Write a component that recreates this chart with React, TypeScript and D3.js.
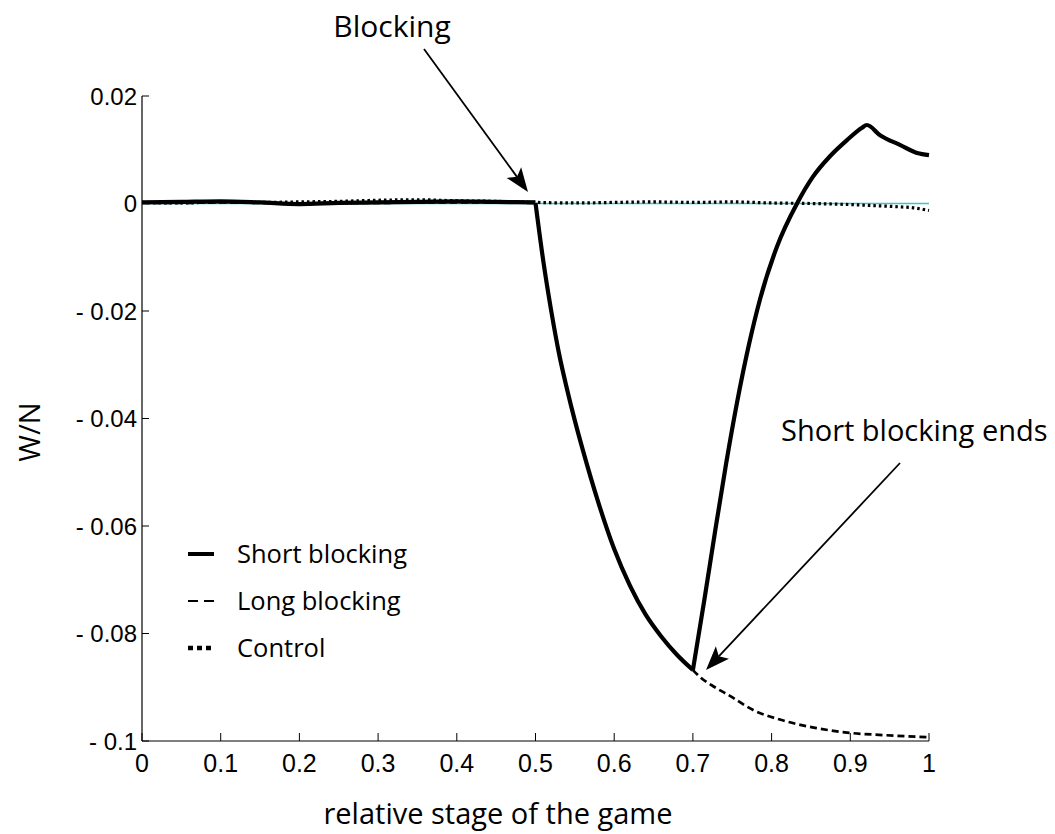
import React from "react";
import * as d3 from "d3";

// x positions (relative stage) and W/N values for each curve
const preStage = [0, 0.05, 0.1, 0.15, 0.2, 0.25, 0.3, 0.35, 0.4, 0.45, 0.5];
const shortPre = [0.0002, 0.0003, 0.0004, 0.0002, -0.0001, 0.0001, 0.0002, 0.0003, 0.0004, 0.0003, 0.0002];
const longPre = [0.0001, 0.0001, 0.0002, 0.0001, 0.0000, 0.0001, 0.0001, 0.0002, 0.0002, 0.0002, 0.0001];

const dropStage = [0.5, 0.51, 0.52, 0.53, 0.54, 0.55, 0.56, 0.58, 0.6, 0.62, 0.64, 0.66, 0.68, 0.7];
const dropValues = [0.0001, -0.0108, -0.0200, -0.0280, -0.0345, -0.0404, -0.0458, -0.0557, -0.0643, -0.0711, -0.0765, -0.0806, -0.0840, -0.0868];

const recoverStage = [0.7, 0.7147, 0.7281, 0.7421, 0.756, 0.7713, 0.7853, 0.8069, 0.8323, 0.8526, 0.8742, 0.8958, 0.9149, 0.921, 0.9378, 0.963, 0.985, 1.0];
const recoverValues = [-0.0868, -0.0736, -0.0611, -0.0485, -0.0371, -0.0262, -0.0178, -0.0080, 0.0000, 0.0050, 0.0088, 0.0118, 0.0141, 0.0146, 0.0127, 0.0109, 0.0094, 0.0090];

const longStage = [0.7, 0.709, 0.728, 0.747, 0.776, 0.815, 0.857, 0.9, 0.942, 1.0];
const longValues = [-0.0868, -0.0881, -0.0900, -0.0916, -0.0942, -0.0962, -0.0976, -0.0985, -0.0989, -0.0993];

const controlStage = [0, 0.05, 0.1, 0.15, 0.2, 0.25, 0.3, 0.35, 0.4, 0.45, 0.5, 0.55, 0.6, 0.65, 0.7, 0.75, 0.8, 0.85, 0.9, 0.93, 0.96, 0.98, 1.0];
const controlValues = [0.0002, 0.0001, 0.0003, 0.0002, 0.0003, 0.0004, 0.0006, 0.0007, 0.0005, 0.0004, 0.0002, 0.0001, 0.0002, 0.0003, 0.0002, 0.0003, 0.0001, 0.0000, -0.0002, -0.0004, -0.0006, -0.0008, -0.0013];

const xTicks = [0, 0.1, 0.2, 0.3, 0.4, 0.5, 0.6, 0.7, 0.8, 0.9, 1];
const yTicks = [0.02, 0, -0.02, -0.04, -0.06, -0.08, -0.1];

const legendItems = ["Short blocking", "Long blocking", "Control"];

const W = 1055;
const H = 834;
const left = 142;
const right = 929;
const top = 96;
const bottom = 741;

const yTickFont = "'Liberation Sans', Arial, sans-serif";
const xTickFont = "'Liberation Sans Narrow', 'Liberation Sans', Arial, sans-serif";
const textFont = "'Open Sans', 'Noto Sans', sans-serif";

type Pt = [number, number];
const zip = (xs: number[], ys: number[]): Pt[] => xs.map((x, i) => [x, ys[i]]);

const fmtY = (v: number) => (v === 0 ? "0" : v < 0 ? "- " + String(Math.abs(v)) : String(v));

export default function App() {
  const x = d3.scaleLinear().domain([0, 1]).range([left, right]);
  const y = d3.scaleLinear().domain([-0.1, 0.02]).range([bottom, top]);
  const line = d3
    .line<Pt>()
    .x((d) => x(d[0]))
    .y((d) => y(d[1]))
    .curve(d3.curveMonotoneX);

  const shortPath = [
    line(zip(preStage, shortPre)),
    line(zip(dropStage, dropValues)),
    line(zip(recoverStage, recoverValues)),
  ];
  const longPath = [
    line(zip(preStage, longPre)),
    line(zip(dropStage, dropValues)),
    line(zip(longStage, longValues)),
  ];
  const controlPath = line(zip(controlStage, controlValues));

  // annotation arrow with a filled, slightly notched head
  const arrow = (x1: number, y1: number, x2: number, y2: number) => {
    const ang = Math.atan2(y2 - y1, x2 - x1);
    const len = 24;
    const half = 9;
    const bx = x2 - len * Math.cos(ang);
    const by = y2 - len * Math.sin(ang);
    const px = -Math.sin(ang) * half;
    const py = Math.cos(ang) * half;
    const ix = x2 - len * 0.78 * Math.cos(ang);
    const iy = y2 - len * 0.78 * Math.sin(ang);
    return (
      <g>
        <line x1={x1} y1={y1} x2={ix} y2={iy} stroke="#000" strokeWidth={1.8} />
        <path d={`M${x2},${y2} L${bx + px},${by + py} L${ix},${iy} L${bx - px},${by - py} Z`} fill="#000" />
      </g>
    );
  };

  const legendX = 188;
  const legendY = [554, 601, 648];

  return (
    <svg
      width={W}
      height={H}
      style={{ position: "absolute", left: 0, top: 0, display: "block", background: "#fff" }}
    >
      {/* zero reference */}
      <line x1={x(0)} x2={x(1)} y1={y(0)} y2={y(0)} stroke="#3cc4c6" strokeWidth={1.3} />

      {/* axes */}
      <line x1={left} x2={left} y1={top} y2={bottom} stroke="#000" strokeWidth={1.2} />
      <line x1={left} x2={right} y1={bottom} y2={bottom} stroke="#000" strokeWidth={1.2} />
      {yTicks.map((t) => (
        <g key={"y" + t}>
          <line x1={left} x2={left + 7} y1={y(t)} y2={y(t)} stroke="#000" strokeWidth={1} />
          <text x={left - 5} y={y(t)} dy="0.36em" textAnchor="end" fontFamily={yTickFont} fontSize={24}>
            {fmtY(t)}
          </text>
        </g>
      ))}
      {xTicks.map((t) => (
        <g key={"x" + t}>
          <line x1={x(t)} x2={x(t)} y1={bottom} y2={bottom - 8} stroke="#000" strokeWidth={1} />
          <text x={x(t)} y={772} textAnchor="middle" fontFamily={xTickFont} fontSize={25}>
            {String(t)}
          </text>
        </g>
      ))}

      {/* series */}
      <path d={controlPath ?? ""} fill="none" stroke="#000" strokeWidth={3.2} strokeDasharray="2.5 3" />
      {longPath.map((d, i) => (
        <path key={"l" + i} d={d ?? ""} fill="none" stroke="#000" strokeWidth={2.7} strokeDasharray="7 4" />
      ))}
      {shortPath.map((d, i) => (
        <path key={"s" + i} d={d ?? ""} fill="none" stroke="#000" strokeWidth={4.2} strokeLinejoin="round" />
      ))}

      {/* legend */}
      <line x1={legendX} x2={legendX + 26} y1={legendY[0]} y2={legendY[0]} stroke="#000" strokeWidth={4} />
      <line x1={legendX} x2={legendX + 26} y1={legendY[1]} y2={legendY[1]} stroke="#000" strokeWidth={1.8} strokeDasharray="10 6" />
      <line x1={legendX} x2={legendX + 26} y1={legendY[2]} y2={legendY[2]} stroke="#000" strokeWidth={4.5} strokeDasharray="5 4" />
      {legendItems.map((s, i) => (
        <text key={s} x={237} y={legendY[i]} dy="0.36em" fontFamily={textFont} fontSize={25.5}>
          {s}
        </text>
      ))}

      {/* annotations */}
      <text x={392} y={37} textAnchor="middle" fontFamily={textFont} fontSize={30}>
        Blocking
      </text>
      {arrow(424, 49, 528, 192)}
      <text x={781} y={441} fontFamily={textFont} fontSize={29}>
        Short blocking ends
      </text>
      {arrow(900, 463, 706, 670)}

      {/* axis titles */}
      <text x={498} y={824} textAnchor="middle" fontFamily={textFont} fontSize={29}>
        relative stage of the game
      </text>
      <text
        transform={`translate(30, ${432}) rotate(-90)`}
        dy="0.36em"
        textAnchor="middle"
        fontFamily={textFont}
        fontSize={29}
      >
        W/N
      </text>
    </svg>
  );
}
